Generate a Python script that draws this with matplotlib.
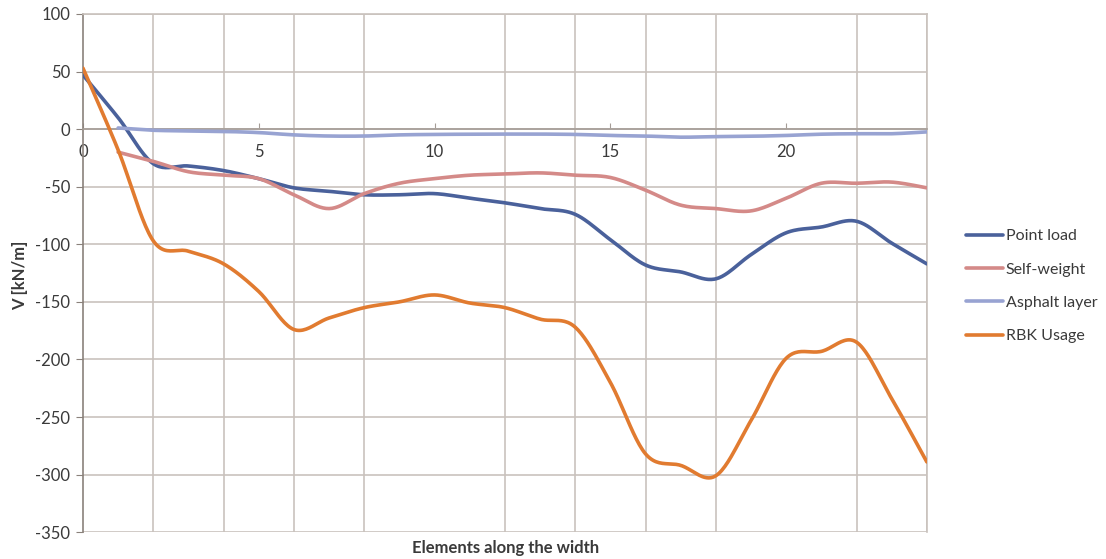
import numpy as np
import matplotlib
matplotlib.use("Agg")
import matplotlib.pyplot as plt
from matplotlib.ticker import MultipleLocator

# shear force per element along the deck width
ELEMENTS = list(range(25))
POINT_LOAD = [47, 10, -30, -32, -36, -43, -51, -54, -57, -57, -56, -60, -64,
              -69, -74, -96, -118, -124, -130, -109, -90, -85, -80, -99, -117]
SELF_WEIGHT = [-20, -28, -37, -40, -43, -57, -69, -56, -47, -43, -40, -39,
               -38, -40, -42, -53, -66, -69, -71, -60, -47, -47, -46, -51]
ASPHALT = [1, -1, -1.5, -2, -3, -5, -6, -6, -5, -4.6, -4.4, -4.3, -4.3, -4.6,
           -5.5, -6, -7, -6.5, -6.2, -5.5, -4.4, -4, -4, -2.4]
RBK_USAGE = [53, -18, -97, -106, -117, -141, -174, -164, -155, -150, -144,
             -151, -155, -165, -172, -220, -282, -292, -301, -253, -199, -193,
             -185, -234, -289]

SERIES = [
    ("Point load", ELEMENTS, POINT_LOAD, "#4a619b"),
    ("Self-weight", ELEMENTS[1:], SELF_WEIGHT, "#d48a88"),
    ("Asphalt layer", ELEMENTS[1:], ASPHALT, "#98a3d2"),
    ("RBK Usage", ELEMENTS, RBK_USAGE, "#e17b30"),
]

GRID = "#c9c2bd"
TEXT = "#3a3a3a"


def smooth(xs, ys, steps=24):
    """
    Catmull-Rom style bezier through the points, like a spreadsheet
    'smoothed line'. Returns dense x and y arrays.
    """
    p = np.column_stack([xs, ys]).astype(float)
    n = len(p)
    out = []
    for i in range(n - 1):
        p0 = p[max(i - 1, 0)]
        p1 = p[i]
        p2 = p[i + 1]
        p3 = p[min(i + 2, n - 1)]
        c1 = p1 + (p2 - p0) / 6
        c2 = p2 - (p3 - p1) / 6
        t = np.linspace(0, 1, steps)[:, None]
        seg = ((1 - t) ** 3 * p1 + 3 * (1 - t) ** 2 * t * c1
               + 3 * (1 - t) * t ** 2 * c2 + t ** 3 * p2)
        out.append(seg if i == 0 else seg[1:])
    out = np.vstack(out)
    return out[:, 0], out[:, 1]


plt.rcParams["font.family"] = ["Lato", "DejaVu Sans"]
plt.rcParams["axes.unicode_minus"] = False

fig = plt.figure(figsize=(11.06, 5.59), dpi=100)
ax = fig.add_axes([0.075, 0.048, 0.763, 0.927])

for name, xs, ys, color in SERIES:
    sx, sy = smooth(xs, ys)
    ax.plot(sx, sy, color=color, lw=2.6, label=name, solid_capstyle="round",
            zorder=3)

ax.set_xlim(0, 24)
ax.set_ylim(-350, 100)
ax.yaxis.set_major_locator(MultipleLocator(50))
ax.xaxis.set_major_locator(MultipleLocator(5))
ax.xaxis.set_minor_locator(MultipleLocator(2))

ax.grid(True, which="major", axis="y", color=GRID, lw=1.2, zorder=0)
ax.grid(True, which="minor", axis="x", color=GRID, lw=1.2, zorder=0)
ax.set_axisbelow(True)

# category axis crosses at zero, labels hang just under it
ax.spines["bottom"].set_position(("data", 0))
ax.spines["bottom"].set_color("#a59d97")
ax.spines["bottom"].set_linewidth(1.2)
ax.spines["left"].set_color("#8a817b")
ax.spines["left"].set_linewidth(1.2)
ax.spines["right"].set_color(GRID)
ax.spines["right"].set_linewidth(1.2)
ax.spines["top"].set_color(GRID)
ax.spines["top"].set_linewidth(1.2)

ax.tick_params(axis="x", which="major", direction="in", length=4,
               color="#a59d97", labelsize=12, labelcolor=TEXT, pad=11)
ax.tick_params(axis="x", which="minor", length=0)
ax.tick_params(axis="y", direction="out", length=5, color="#8a817b",
               labelsize=12, labelcolor=TEXT, pad=4)

fig.text(0.018, 0.508, "V [kN/m]", rotation=90, ha="center", va="center",
         fontsize=12, fontweight="bold", color=TEXT)
fig.text(0.457, 0.019, "Elements along the width", ha="center",
         va="center", fontsize=12, fontweight="bold", color=TEXT)

fig.legend(loc="center left", bbox_to_anchor=(0.866, 0.488), frameon=False,
           fontsize=11.5, handlelength=2.3, handletextpad=0.2,
           labelspacing=1.2, borderpad=0, labelcolor=TEXT)

fig.savefig("out.png", dpi=100)
